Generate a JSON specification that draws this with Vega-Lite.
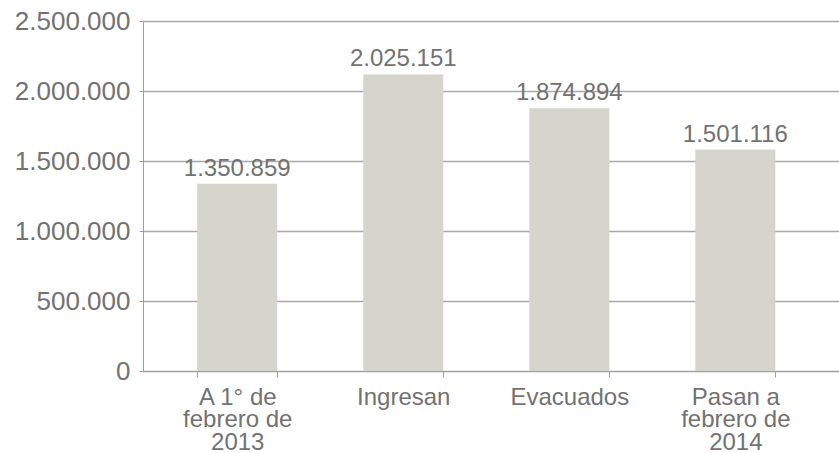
{
  "$schema": "https://vega.github.io/schema/vega-lite/v6.json",
  "width": 696,
  "height": 350,
  "autosize": {"type": "none"},
  "padding": {"left": 143, "top": 21, "right": 0, "bottom": 82},
  "background": "white",
  "config": {
    "view": {"stroke": null},
    "font": "Liberation Sans",
    "axis": {"labelFont": "Liberation Sans", "labelColor": "#727272"}
  },
  "data": {
    "values": [
      {"cat": "A 1° de|febrero de|2013", "value": 1337000, "label": "1.350.859"},
      {"cat": "Ingresan", "value": 2118000, "label": "2.025.151"},
      {"cat": "Evacuados", "value": 1877000, "label": "1.874.894"},
      {"cat": "Pasan a|febrero de|2014", "value": 1582000, "label": "1.501.116"}
    ]
  },
  "encoding": {
    "x": {
      "field": "cat",
      "type": "nominal",
      "sort": null,
      "scale": {"paddingInner": 0.518, "paddingOuter": 0.355, "align": 0.46},
      "axis": {
        "title": null,
        "labelAngle": 0,
        "labelExpr": "split(datum.label, '|')",
        "labelFontSize": 24,
        "labelLineHeight": 22.5,
        "labelPadding": 8,
        "tickBand": "extent",
        "tickSize": 6,
        "tickColor": "#a0a0a0",
        "domainColor": "#a0a0a0",
        "grid": false
      }
    },
    "y": {
      "field": "value",
      "type": "quantitative",
      "scale": {"domain": [0, 2500000], "nice": false},
      "axis": {
        "title": null,
        "values": [0, 500000, 1000000, 1500000, 2000000, 2500000],
        "labelExpr": "replace(format(datum.value, ','), /,/g, '.')",
        "labelFontSize": 26,
        "labelPadding": 9,
        "tickSize": 4,
        "tickColor": "#a0a0a0",
        "domainColor": "#a0a0a0",
        "gridColor": "#a8a8a8",
        "gridWidth": 1.3,
        "grid": true
      }
    }
  },
  "layer": [
    {"mark": {"type": "bar", "color": "#d5d5cd"}},
    {
      "mark": {"type": "text", "baseline": "alphabetic", "dy": -8, "fontSize": 24, "font": "Liberation Sans", "color": "#727272"},
      "encoding": {"text": {"field": "label"}}
    }
  ]
}
